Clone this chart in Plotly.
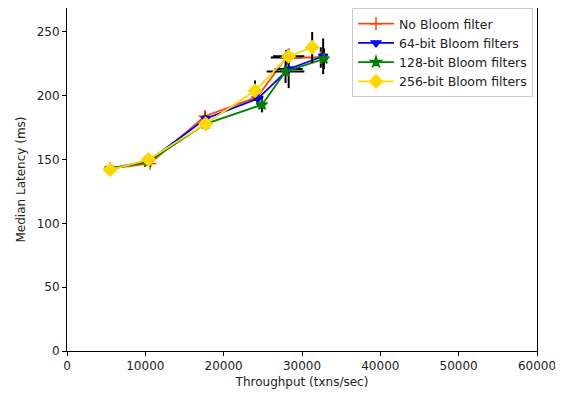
import plotly.graph_objects as go

series_names = ["No Bloom filter", "64-bit Bloom filters", "128-bit Bloom filters", "256-bit Bloom filters"]
colors = ["#FF4500", "#0000FF", "#008000", "#FFD700"]
symbols = ["cross-thin", "triangle-down", "star", "diamond"]

x_none = [5500, 10600, 17600, 24300, 28000, 32400]
y_none = [143, 147, 184, 199, 230, 230]
ex_none = [200, 300, 300, 400, 2000, 500]
ey_none = [2, 2, 4, 6, 6, 8]

x_64 = [5500, 10400, 17700, 24400, 28300, 32700]
y_64 = [143, 149, 182, 198, 221, 231]
ex_64 = [200, 300, 300, 400, 1800, 500]
ey_64 = [2, 2, 3, 7, 15, 14]

x_128 = [5500, 10300, 17700, 24900, 27900, 32800]
y_128 = [143, 148, 178, 193, 219, 229]
ex_128 = [200, 300, 300, 400, 2400, 500]
ey_128 = [2, 2, 3, 6, 9, 8]

x_256 = [5500, 10400, 17700, 24000, 28300, 31300]
y_256 = [142, 150, 178, 204, 231, 238]
ex_256 = [200, 300, 300, 400, 2000, 500]
ey_256 = [2, 2, 3, 8, 6, 12]

xs = [x_none, x_64, x_128, x_256]
ys = [y_none, y_64, y_128, y_256]
exs = [ex_none, ex_64, ex_128, ex_256]
eys = [ey_none, ey_64, ey_128, ey_256]

x_ticks = [0, 10000, 20000, 30000, 40000, 50000, 60000]
y_ticks = [0, 50, 100, 150, 200, 250]

fig = go.Figure()
for name, c, s, x, y, ex, ey in zip(series_names, colors, symbols, xs, ys, exs, eys):
    msize = {"diamond": 10, "star": 8, "triangle-down": 8, "cross-thin": 9}[s]
    fig.add_trace(go.Scatter(
        x=x, y=y, name=name, mode="lines+markers",
        line=dict(color=c, width=1.8),
        marker=dict(symbol=s, size=msize, color=c, line=dict(color=c, width=1.5)),
        error_x=dict(type="data", array=ex, color="black", thickness=2, width=0),
        error_y=dict(type="data", array=ey, color="black", thickness=2, width=0),
    ))

axis_common = dict(showline=True, linecolor="black", linewidth=1, mirror=True,
                   ticks="outside", ticklen=4, tickcolor="black", showgrid=False,
                   zeroline=False, tickfont=dict(size=12, color="#222"),
                   title_font=dict(size=12, color="#222"))

fig.update_layout(
    width=563, height=398,
    margin=dict(l=59, r=34, t=0, b=55),
    paper_bgcolor="white", plot_bgcolor="white",
    font=dict(family="DejaVu Sans", size=12, color="#222"),
    xaxis=dict(range=[0, 60000], tickvals=x_ticks, ticktext=[str(v) for v in x_ticks],
               title=dict(text="Throughput (txns/sec)", standoff=5), **axis_common),
    yaxis=dict(range=[0, 268.8], tickvals=y_ticks, ticktext=[str(v) for v in y_ticks],
               title=dict(text="Median Latency (ms)", standoff=8), **axis_common),
    legend=dict(x=0.9915, y=1.0, xanchor="right", yanchor="top",
                bgcolor="rgba(255,255,255,0.8)", bordercolor="#ccc", borderwidth=1,
                font=dict(size=12.5), tracegroupgap=0, itemwidth=36),
    showlegend=True,
)

fig.write_html("out.html")
